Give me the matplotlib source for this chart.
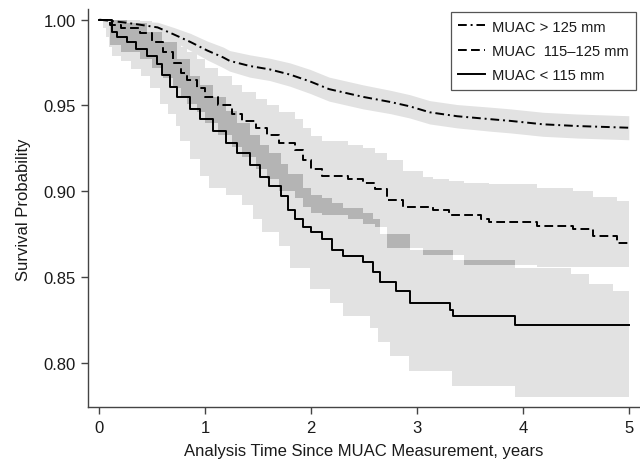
import numpy as np
import matplotlib
matplotlib.use("Agg")
import matplotlib.pyplot as plt

plt.rcParams['font.family'] = ['Liberation Sans', 'DejaVu Sans']

# ---------------- data ----------------
labels = ["MUAC > 125 mm", "MUAC  115\u2013125 mm", "MUAC < 115 mm"]

# MUAC > 125 mm (dash-dot)
hi_t = [0, 0.22, 0.39, 0.55, 0.70, 0.86, 1.02, 1.17, 1.23, 1.42, 1.61, 1.80, 1.99,
        2.17, 2.49, 2.75, 2.93, 3.12, 3.38, 3.69, 3.88, 4.19, 4.51, 5.0]
hi_s = [1.0, 0.9985, 0.997, 0.9955, 0.9915, 0.987, 0.982, 0.978, 0.976, 0.973, 0.971,
        0.968, 0.964, 0.9595, 0.955, 0.952, 0.9495, 0.946, 0.9437, 0.942, 0.941, 0.939,
        0.938, 0.937]
hi_lo = [1.0, 0.9970, 0.9950, 0.9925, 0.9875, 0.9820, 0.9765, 0.9720, 0.9700, 0.9665,
         0.9645, 0.9612, 0.9570, 0.9525, 0.9480, 0.9452, 0.9427, 0.9392, 0.9369, 0.9350,
         0.9340, 0.9320, 0.9310, 0.9300]
hi_hi = [1.0, 0.9995, 0.9990, 0.9985, 0.9955, 0.9920, 0.9875, 0.9840, 0.9820, 0.9795,
         0.9775, 0.9748, 0.9710, 0.9665, 0.9620, 0.9588, 0.9563, 0.9528, 0.9505, 0.9490,
         0.9480, 0.9460, 0.9450, 0.9440]

# MUAC 115-125 mm (dashed)
md_t = [0, 0.1, 0.2, 0.38, 0.5, 0.6, 0.7, 0.77, 0.83, 0.92, 1.0, 1.12, 1.25, 1.35, 1.48,
        1.58, 1.7, 1.85, 1.92, 2.0, 2.1, 2.35, 2.49, 2.6, 2.72, 2.87, 3.06, 3.15, 3.3,
        3.44, 3.6, 3.68, 4.13, 4.47, 4.66, 4.89, 5.0]
md_s = [1.0, 0.997, 0.995, 0.992, 0.987, 0.981, 0.975, 0.969, 0.965, 0.960, 0.955, 0.950,
        0.945, 0.941, 0.937, 0.933, 0.928, 0.924, 0.918, 0.913, 0.909, 0.907, 0.905, 0.901,
        0.895, 0.891, 0.891, 0.889, 0.886, 0.886, 0.884, 0.882, 0.880, 0.878, 0.874, 0.870,
        0.870]
md_lo = [1.0, 0.985, 0.981, 0.977, 0.972, 0.966, 0.960, 0.955, 0.951, 0.946, 0.940, 0.933,
         0.926, 0.920, 0.913, 0.907, 0.900, 0.896, 0.891, 0.887, 0.886, 0.884, 0.881, 0.879,
         0.867, 0.867, 0.863, 0.863, 0.863, 0.857, 0.857, 0.857, 0.856, 0.856, 0.856, 0.856,
         0.856]
md_hi = [1.0, 1.0, 1.0, 0.999, 0.996, 0.992, 0.988, 0.984, 0.981, 0.977, 0.972, 0.967,
         0.962, 0.958, 0.954, 0.950, 0.946, 0.942, 0.937, 0.932, 0.929, 0.927, 0.925, 0.922,
         0.918, 0.912, 0.908, 0.907, 0.906, 0.905, 0.905, 0.904, 0.902, 0.900, 0.8966,
         0.894, 0.894]

# MUAC < 115 mm (solid)
lo_t = [0, 0.12, 0.17, 0.26, 0.35, 0.45, 0.54, 0.59, 0.67, 0.73, 0.86, 0.95, 1.07, 1.2,
        1.3, 1.42, 1.52, 1.6, 1.72, 1.78, 1.85, 1.92, 2.0, 2.1, 2.2, 2.3, 2.49, 2.58, 2.65,
        2.8, 2.93, 3.31, 3.34, 3.93, 5.0]
lo_s = [1.0, 0.993, 0.990, 0.987, 0.983, 0.979, 0.974, 0.968, 0.961, 0.955, 0.948, 0.942,
        0.935, 0.928, 0.922, 0.915, 0.908, 0.903, 0.897, 0.889, 0.884, 0.879, 0.876, 0.872,
        0.866, 0.862, 0.859, 0.853, 0.847, 0.842, 0.835, 0.831, 0.827, 0.822, 0.822]

# CI band of MUAC < 115 mm
lob_t = [0, 0.03, 0.06, 0.09, 0.12, 0.2, 0.3, 0.39, 0.48, 0.57, 0.65, 0.72, 0.76, 0.86,
         0.95, 1.04, 1.2, 1.35, 1.45, 1.54, 1.7, 1.8, 1.99, 2.18, 2.3, 2.56, 2.63, 2.745,
         2.92, 3.33, 3.93, 5.0]
lob_lo = [1.0, 0.995, 0.990, 0.984, 0.979, 0.976, 0.971, 0.967, 0.960, 0.951, 0.945,
          0.938, 0.929, 0.919, 0.909, 0.902, 0.898, 0.892, 0.884, 0.876, 0.868, 0.855,
          0.843, 0.835, 0.827, 0.820, 0.812, 0.804, 0.795, 0.7865, 0.780, 0.780]
lohi_t = [0, 0.12, 0.26, 0.45, 0.59, 0.73, 0.86, 0.95, 1.07, 1.2, 1.3, 1.42, 1.52, 1.6,
          1.72, 1.78, 1.92, 2.0, 2.1, 2.2, 2.3, 2.49, 2.58, 2.65, 2.93, 3.34, 3.93, 4.45,
          4.62, 4.85, 5.0]
lohi_hi = [1.0, 1.0, 0.998, 0.993, 0.987, 0.977, 0.967, 0.962, 0.955, 0.947, 0.940, 0.933,
           0.927, 0.922, 0.916, 0.910, 0.902, 0.898, 0.896, 0.893, 0.890, 0.887, 0.884,
           0.875, 0.866, 0.860, 0.855, 0.852, 0.846, 0.842, 0.842]

x_ticks = [0, 1, 2, 3, 4, 5]
y_ticks = [0.80, 0.85, 0.90, 0.95, 1.00]

# ---------------- helpers ----------------
def step_eval(t, v, grid):
    t = np.asarray(t); v = np.asarray(v)
    idx = np.searchsorted(t, grid, side='right') - 1
    idx = np.clip(idx, 0, len(t) - 1)
    return v[idx]

LIGHT = '#e2e2e2'
DARK = '#b4b4b4'
AXC = '#444444'
TXT = '#1a1a1a'

fig = plt.figure(figsize=(6.4, 4.64), dpi=100)
ax = fig.add_axes([0.138, 0.120, 0.862, 0.858])

# light bands
ax.fill_between(hi_t, hi_lo, hi_hi, color=LIGHT, linewidth=0)
ax.fill_between(md_t, md_lo, md_hi, step='post', color=LIGHT, linewidth=0)
lo_grid = np.union1d(lob_t, lohi_t)
ax.fill_between(lo_grid, step_eval(lob_t, lob_lo, lo_grid),
                step_eval(lohi_t, lohi_hi, lo_grid), step='post', color=LIGHT, linewidth=0)

# overlap of the two lower bands
grid = np.union1d(np.union1d(lob_t, lohi_t), md_t)
ov_lo = np.maximum(step_eval(lob_t, lob_lo, grid), step_eval(md_t, md_lo, grid))
ov_hi = np.minimum(step_eval(lohi_t, lohi_hi, grid), step_eval(md_t, md_hi, grid))
ov_hi = np.maximum(ov_hi, ov_lo)
ax.fill_between(grid, ov_lo, ov_hi, step='post', color=DARK, linewidth=0)

# curves
ax.plot(hi_t, hi_s, color='black', lw=1.4, linestyle=(0, (4.5, 2.0, 1.0, 2.0)),
        label=labels[0])
ax.plot(md_t, md_s, color='black', lw=1.4, linestyle=(0, (4.5, 2.2)),
        drawstyle='steps-post', label=labels[1])
ax.plot(lo_t, lo_s, color='black', lw=1.4, drawstyle='steps-post', label=labels[2])

ax.set_xlim(-0.104, 5.106)
ax.set_ylim(0.774, 1.0061)
ax.set_xticks(x_ticks)
ax.set_xticklabels([str(v) for v in x_ticks])
ax.set_yticks(y_ticks)
ax.set_yticklabels([f"{v:.2f}" for v in y_ticks])

for s in ['top', 'right']:
    ax.spines[s].set_visible(False)
for s in ['left', 'bottom']:
    ax.spines[s].set_color(AXC)
    ax.spines[s].set_linewidth(1.0)
ax.tick_params(axis='both', direction='out', length=5, width=1.0, color=AXC,
               labelsize=12, labelcolor=TXT, pad=4)

ax.set_xlabel("Analysis Time Since MUAC Measurement, years", fontsize=12,
              color=TXT, labelpad=6)
ax.set_ylabel("Survival Probability", fontsize=12, color=TXT, labelpad=9)

leg = ax.legend(loc='upper right', bbox_to_anchor=(0.993, 0.9925), borderaxespad=0,
                fontsize=10.6, frameon=True, fancybox=False, framealpha=1,
                edgecolor='#555555', handlelength=1.8, handletextpad=0.5,
                borderpad=0.5, labelspacing=0.7)
leg.get_frame().set_linewidth(0.9)
for t in leg.get_texts():
    t.set_color(TXT)

fig.savefig("out.png", dpi=100)
